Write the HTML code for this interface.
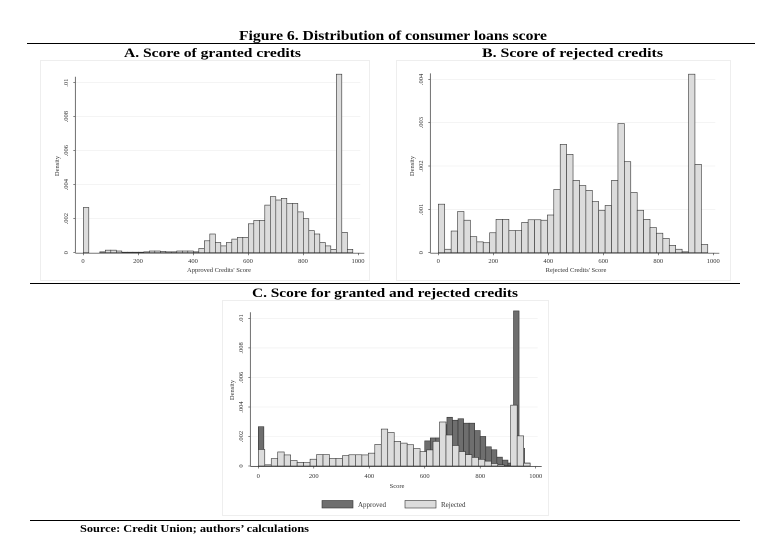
<!DOCTYPE html>
<html><head><meta charset="utf-8"><style>
html,body{margin:0;padding:0;background:#fff;}
svg{display:block;}
</style></head><body>
<svg id="s" width="766" height="552" viewBox="0 0 766 552" xmlns="http://www.w3.org/2000/svg" font-family="Liberation Serif, serif">
<rect width="766" height="552" fill="#fff"/>
<text x="239" y="40" font-size="14" font-weight="bold" textLength="308" lengthAdjust="spacingAndGlyphs">Figure 6. Distribution of consumer loans score</text>
<line x1="27" y1="43.5" x2="755" y2="43.5" stroke="#000" stroke-width="1"/>
<text x="124" y="57" font-size="13" font-weight="bold" textLength="177" lengthAdjust="spacingAndGlyphs">A. Score of granted credits</text>
<text x="482" y="57" font-size="13" font-weight="bold" textLength="181" lengthAdjust="spacingAndGlyphs">B. Score of rejected credits</text>
<rect x="40.5" y="60.5" width="329" height="220" fill="none" stroke="#eee"/>
<rect x="396.5" y="60.5" width="334" height="220" fill="none" stroke="#eee"/>
<line x1="30" y1="283.5" x2="740" y2="283.5" stroke="#000" stroke-width="1"/>
<text x="252" y="297" font-size="13" font-weight="bold" textLength="266" lengthAdjust="spacingAndGlyphs">C. Score for granted and rejected credits</text>
<rect x="222.5" y="300.5" width="326" height="215" fill="none" stroke="#eee"/>
<line x1="30" y1="520.5" x2="740" y2="520.5" stroke="#000" stroke-width="1"/>
<text x="80" y="532" font-size="11" font-weight="bold" textLength="229" lengthAdjust="spacingAndGlyphs">Source: Credit Union; authors’ calculations</text>

<g font-size="6.5" fill="#333">
<!-- A -->
<text x="219" y="272" text-anchor="middle">Approved Credits' Score</text>
<text transform="translate(59,166) rotate(-90)" text-anchor="middle">Density</text>
<text x="83" y="263" text-anchor="middle">0</text><text x="138" y="263" text-anchor="middle">200</text><text x="193" y="263" text-anchor="middle">400</text><text x="248" y="263" text-anchor="middle">600</text><text x="303" y="263" text-anchor="middle">800</text><text x="358" y="263" text-anchor="middle">1000</text>
<text transform="translate(68,252.7) rotate(-90)" text-anchor="middle">0</text>
<text transform="translate(68,218.7) rotate(-90)" text-anchor="middle">.002</text>
<text transform="translate(68,184.7) rotate(-90)" text-anchor="middle">.004</text>
<text transform="translate(68,150.7) rotate(-90)" text-anchor="middle">.006</text>
<text transform="translate(68,116.7) rotate(-90)" text-anchor="middle">.008</text>
<text transform="translate(68,82.7) rotate(-90)" text-anchor="middle">.01</text>
<!-- B -->
<text x="576" y="272" text-anchor="middle">Rejected Credits' Score</text>
<text transform="translate(414,166) rotate(-90)" text-anchor="middle">Density</text>
<text x="438.3" y="263" text-anchor="middle">0</text><text x="493.3" y="263" text-anchor="middle">200</text><text x="548.3" y="263" text-anchor="middle">400</text><text x="603.3" y="263" text-anchor="middle">600</text><text x="658.3" y="263" text-anchor="middle">800</text><text x="713.3" y="263" text-anchor="middle">1000</text>
<text transform="translate(423,252.7) rotate(-90)" text-anchor="middle">0</text>
<text transform="translate(423,209.4) rotate(-90)" text-anchor="middle">.001</text>
<text transform="translate(423,166) rotate(-90)" text-anchor="middle">.002</text>
<text transform="translate(423,122.7) rotate(-90)" text-anchor="middle">.003</text>
<text transform="translate(423,79.4) rotate(-90)" text-anchor="middle">.004</text>
<!-- C -->
<text x="397" y="488" text-anchor="middle">Score</text>
<text transform="translate(234,390) rotate(-90)" text-anchor="middle">Density</text>
<text x="258.3" y="478" text-anchor="middle">0</text><text x="313.8" y="478" text-anchor="middle">200</text><text x="369.3" y="478" text-anchor="middle">400</text><text x="424.7" y="478" text-anchor="middle">600</text><text x="480.2" y="478" text-anchor="middle">800</text><text x="535.7" y="478" text-anchor="middle">1000</text>
<text transform="translate(243,466) rotate(-90)" text-anchor="middle">0</text>
<text transform="translate(243,436.5) rotate(-90)" text-anchor="middle">.002</text>
<text transform="translate(243,407) rotate(-90)" text-anchor="middle">.004</text>
<text transform="translate(243,377.4) rotate(-90)" text-anchor="middle">.006</text>
<text transform="translate(243,347.9) rotate(-90)" text-anchor="middle">.008</text>
<text transform="translate(243,318.3) rotate(-90)" text-anchor="middle">.01</text>
<!-- legend -->
<rect x="322" y="500.5" width="31" height="7.5" fill="#6e6e6e" stroke="#333" stroke-width="0.6"/>
<text x="358" y="507" font-size="7">Approved</text>
<rect x="405" y="500.5" width="31" height="7.5" fill="#dcdcdc" stroke="#333" stroke-width="0.6"/>
<text x="441" y="507" font-size="7">Rejected</text>
</g>
<g id="bars"></g>
</svg>
<script>
var A=[26.6,0,0,0.5,1.5,1.5,1,0.3,0.3,0.3,0.3,0.5,1,1,0.8,0.5,0.5,1,1,1,0.5,2.5,7,11,6,4,6,8,9,9,17,19,19,28,33,31,32,29,29,24,20,13,11,6,4,2,105,12,2,0];
var B=[11.2,0.8,5,9.5,7.5,3.7,2.5,2.3,4.6,7.7,7.7,5.1,5.1,7,7.6,7.6,7.5,8.7,14.6,25,22.7,16.7,15.5,14.4,11.8,9.8,10.9,16.7,29.8,21,13.9,9.8,7.7,5.8,4.5,3.3,1.7,0.8,0.2,41.2,20.4,1.9];
var ns="http://www.w3.org/2000/svg",g=document.getElementById('bars');
function el(t,a){var e=document.createElementNS(ns,t);for(var k in a)e.setAttribute(k,a[k]);g.appendChild(e);return e;}
function panel(x0,x1,y0,perUnit,ticksY,data,w,fill,grid){
 var sx=(x1-x0)/1000;
 if(grid){ticksY.forEach(function(t){el('line',{x1:x0-8,x2:x1+2,y1:t,y2:t,stroke:'#eee','stroke-width':0.6});});
  el('line',{x1:x0-8,x2:x0-8,y1:y0,y2:ticksY[ticksY.length-1]-6,stroke:'#333','stroke-width':0.7});
  el('line',{x1:x0-8,x2:x1+6,y1:y0+0.5,y2:y0+0.5,stroke:'#333','stroke-width':0.7});
  ticksY.forEach(function(t){el('line',{x1:x0-10,x2:x0-8,y1:t,y2:t,stroke:'#333','stroke-width':0.6});});
  for(var i=0;i<=5;i++){var xx=x0+i*200*sx;el('line',{x1:xx,x2:xx,y1:y0+0.5,y2:y0+2.5,stroke:'#333','stroke-width':0.6});}}
 data.forEach(function(v,i){if(v<=0)return;var h=v*perUnit;
  el('rect',{x:x0+i*w*sx,y:y0-h,width:w*sx,height:h,fill:fill,stroke:'#333','stroke-width':0.6});});
}
panel(83.3,358.3,252.7,1.7,[252.7,218.7,184.7,150.7,116.7,82.7],A,20,'#dcdcdc',true);
panel(438.3,713.3,252.7,4.333,[252.7,209.4,166,122.7,79.4],B,23.33,'#dcdcdc',true);
panel(258.3,535.7,466,1.477,[466,436.5,407,377.4,347.9,318.3],A,20,'#6e6e6e',true);
panel(258.3,535.7,466,1.477,[],B,23.33,'#dcdcdc',false);
</script>
</body></html>
